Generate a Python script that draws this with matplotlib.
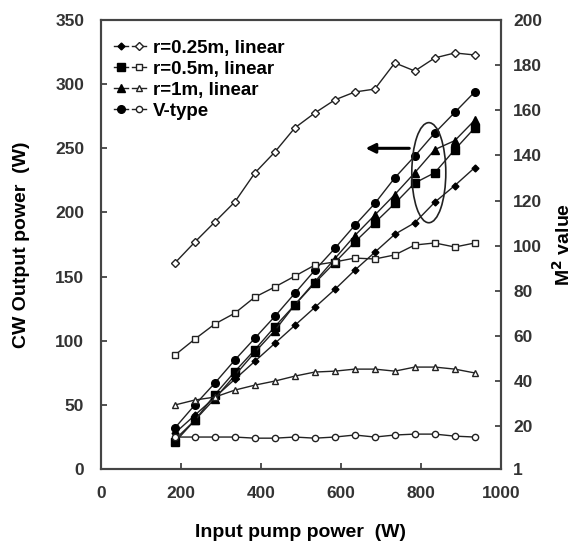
import matplotlib.pyplot as plt
import numpy as np
from matplotlib.legend_handler import HandlerTuple
from matplotlib.patches import Ellipse

plt.rcParams['font.family'] = ['Liberation Sans', 'DejaVu Sans']
plt.rcParams['font.weight'] = 'bold'

# input pump power (W)
pump = [185, 235, 285, 335, 385, 435, 485, 535, 585, 635, 685, 735, 785, 835, 885, 935]

# CW output power (W), left axis
out_025 = [28, 42, 56, 70, 84, 98, 112, 126, 140, 155, 169, 183, 192, 208, 221, 235]
out_05 = [21, 38, 58, 76, 93, 111, 128, 145, 161, 177, 192, 207, 223, 231, 249, 266]
out_1 = [23, 38, 55, 73, 91, 108, 128, 146, 164, 182, 198, 214, 231, 249, 256, 272]
out_v = [32, 50, 67, 85, 102, 119, 137, 155, 172, 190, 207, 227, 244, 262, 278, 294]

# M^2 values, right axis
m2_025 = [92.3, 101.6, 110.5, 119.4, 132.2, 141.5, 152.2, 158.8, 164.6, 168.1, 169.4, 181.0, 177.4, 183.2, 185.4, 184.5]
m2_05 = [51.5, 58.6, 65.3, 70.1, 77.2, 81.7, 86.5, 91.4, 92.8, 94.5, 94.1, 95.9, 100.3, 101.2, 99.4, 101.2]
m2_1 = [29.4, 31.6, 32.9, 36.0, 38.2, 40.0, 42.2, 44.0, 44.4, 45.3, 45.3, 44.4, 46.2, 46.2, 45.3, 43.6]
m2_v = [15.2, 15.2, 15.2, 15.2, 14.7, 14.7, 15.2, 14.7, 15.2, 16.1, 15.2, 16.1, 16.5, 16.5, 15.6, 15.2]

labels = ['r=0.25m, linear', 'r=0.5m, linear', 'r=1m, linear', 'V-type']
markers = ['D', 's', '^', 'o']
fsize = [3.5, 5.5, 5.5, 5.5]
osize = [4.5, 4.5, 5, 4.5]

fig = plt.figure(figsize=(5.83, 5.48), dpi=100)
ax = fig.add_axes([0.173, 0.144, 0.686, 0.8195])
ax2 = ax.twinx()

lc = '#222222'
filled = []
for y, m, s in zip([out_025, out_05, out_1, out_v], markers, fsize):
    l, = ax.plot(pump, y, color=lc, lw=1, marker=m, ms=s, mfc='black', mec='black')
    filled.append(l)
opened = []
for y, m, s in zip([m2_025, m2_05, m2_1, m2_v], markers, osize):
    l, = ax2.plot(pump, y, color=lc, lw=1, marker=m, ms=s, mfc='white', mec=lc, mew=1)
    opened.append(l)

ax.set_xlim(0, 1000)
ax.set_ylim(0, 350)
ax2.set_ylim(1, 200)
ax.set_xticks(np.arange(0, 1001, 200))
ax.set_yticks(np.arange(0, 351, 50))
ax2.set_yticks([1] + list(range(20, 201, 20)))

for a in (ax, ax2):
    a.tick_params(direction='in', length=4, width=1.2, colors='#333333', labelsize=12.5)
    for sp in a.spines.values():
        sp.set_linewidth(1.5)
        sp.set_color('#444444')
ax.tick_params(axis='x', pad=12)
ax.tick_params(axis='y', pad=12)
ax2.tick_params(axis='y', pad=9)

ax.set_xlabel('Input pump power  (W)', fontsize=14, fontweight='bold', labelpad=17)
ax.set_ylabel('CW Output power  (W)', fontsize=14, fontweight='bold', labelpad=18)
ax2.set_ylabel('M$^2$ value', fontsize=14, fontweight='bold', labelpad=7)

# ellipse and arrow marking the output-power curves
ax.add_patch(Ellipse((820, 231), 85, 78, angle=0, fill=False, color=lc, lw=1.2, zorder=5))
ax.annotate('', xy=(655, 250), xytext=(778, 250),
            arrowprops=dict(arrowstyle='-|>', color='black', lw=2.2, mutation_scale=14))

handles = list(zip(filled, opened))
ax.legend(handles, labels, handler_map={tuple: HandlerTuple(ndivide=None, pad=0.2)},
          loc='upper left', frameon=False, fontsize=13.5, handlelength=1.7,
          handletextpad=0.4, labelspacing=0.2, borderaxespad=0.3,
          bbox_to_anchor=(0.0, 0.985))

fig.savefig('out.png', dpi=100)
